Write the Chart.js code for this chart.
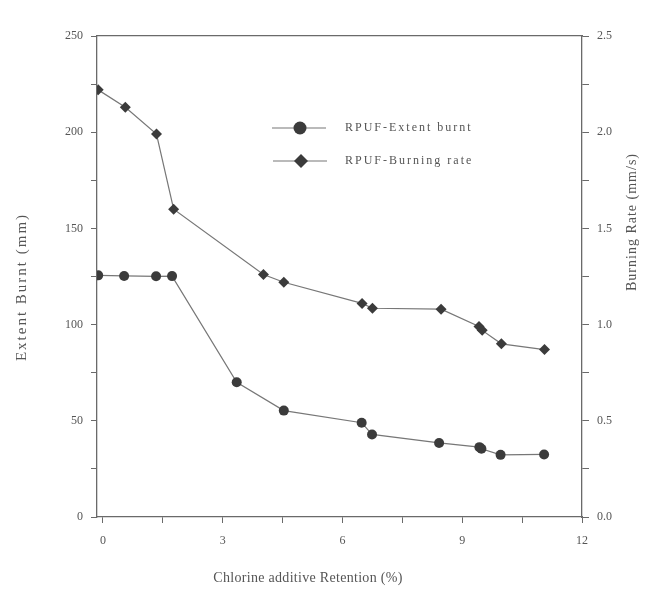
<!DOCTYPE html>
<html>
<head>
<meta charset="utf-8">
<title>Extent burnt and burning rate vs chlorine additive retention</title>
<script src="https://cdn.jsdelivr.net/npm/chart.js@4.4.1/dist/chart.umd.min.js"></script>
<style>
  html, body { margin: 0; padding: 0; background: #ffffff; }
  #wrap { width: 657px; height: 598px; }
</style>
</head>
<body>
<div id="wrap"><canvas id="chart" width="657" height="598"></canvas></div>
<script>
const retentionExtent = [-0.12, 0.53, 1.33, 1.73, 3.35, 4.53, 6.48, 6.74, 8.42, 9.43, 9.48, 9.96, 11.05];
const extentBurnt = [125.6, 125.3, 125.1, 125.2, 70.0, 55.3, 49.0, 42.9, 38.5, 36.3, 35.5, 32.3, 32.5];

const retentionRate = [-0.12, 0.56, 1.34, 1.77, 4.02, 4.53, 6.49, 6.75, 8.47, 9.42, 9.50, 9.98, 11.06];
const burningRate = [2.22, 2.13, 1.99, 1.60, 1.26, 1.22, 1.11, 1.085, 1.08, 0.99, 0.97, 0.90, 0.87];

const xTicks = [0, 1.5, 3, 4.5, 6, 7.5, 9, 10.5, 12];
const leftTicks = [0, 25, 50, 75, 100, 125, 150, 175, 200, 225, 250];
const rightTicks = [0, 0.25, 0.5, 0.75, 1, 1.25, 1.5, 1.75, 2, 2.25, 2.5];

const seriesNames = ['RPUF-Extent burnt', 'RPUF-Burning rate'];
const xTitle = 'Chlorine additive Retention (%)';
const leftTitle = 'Extent Burnt (mm)';
const rightTitle = 'Burning Rate (mm/s)';

const INK = '#555555';
const AXIS = '#6a6a6a';
const MARK = '#3b3b3b';
const SERIF = '"Liberation Serif", "DejaVu Serif", serif';

function toPoints(xs, ys) {
    return xs.map((x, i) => ({ x: x, y: ys[i] }));
}

function fixTicks(list) {
    return scale => { scale.ticks = list.map(v => ({ value: v })); };
}

function spaced(ctx, px) {
    if ('letterSpacing' in ctx) ctx.letterSpacing = px + 'px';
}

function rotatedText(ctx, text, x, y) {
    ctx.save();
    ctx.translate(x, y);
    ctx.rotate(-Math.PI / 2);
    ctx.fillText(text, 0, 0);
    ctx.restore();
}

// legend inside the plot + axis titles placed like the scan
const annotate = {
    id: 'annotate',
    afterDraw(chart) {
        const ctx = chart.ctx;
        ctx.save();

        // legend
        const rows = [
            { y: 128, x0: 272, x1: 326, mx: 300, style: 'circle', r: 6.5 },
            { y: 161, x0: 273, x1: 327, mx: 301, style: 'rectRot', r: 7 }
        ];
        rows.forEach((row, i) => {
            const ds = chart.data.datasets[i];
            ctx.strokeStyle = ds.borderColor;
            ctx.lineWidth = 1.2;
            ctx.beginPath();
            ctx.moveTo(row.x0, row.y);
            ctx.lineTo(row.x1, row.y);
            ctx.stroke();
            ctx.fillStyle = ds.pointBackgroundColor;
            ctx.beginPath();
            if (row.style === 'circle') {
                ctx.arc(row.mx, row.y, row.r, 0, Math.PI * 2);
            } else {
                ctx.moveTo(row.mx, row.y - row.r);
                ctx.lineTo(row.mx + row.r, row.y);
                ctx.lineTo(row.mx, row.y + row.r);
                ctx.lineTo(row.mx - row.r, row.y);
                ctx.closePath();
            }
            ctx.fill();
            ctx.fillStyle = INK;
            ctx.font = '12px ' + SERIF;
            ctx.textBaseline = 'middle';
            ctx.textAlign = 'left';
            spaced(ctx, 2);
            ctx.fillText(ds.label, 345, row.y);
        });

        ctx.fillStyle = INK;
        ctx.textAlign = 'center';
        ctx.textBaseline = 'middle';

        // x title
        ctx.font = '14px ' + SERIF;
        spaced(ctx, 0.3);
        ctx.fillText(xTitle, 308, 578);

        // y titles, both read bottom to top
        ctx.font = '15px ' + SERIF;
        spaced(ctx, 2);
        rotatedText(ctx, leftTitle, 22, 287);
        ctx.font = '14px ' + SERIF;
        spaced(ctx, 1);
        rotatedText(ctx, rightTitle, 632, 222);

        spaced(ctx, 0);
        ctx.restore();
    }
};

const tickFont = { family: SERIF, size: 12 };

new Chart(document.getElementById('chart'), {
    type: 'line',
    data: {
        datasets: [
            {
                label: seriesNames[0],
                data: toPoints(retentionExtent, extentBurnt),
                yAxisID: 'y',
                borderColor: '#777777',
                borderWidth: 1.2,
                pointStyle: 'circle',
                pointRadius: 5,
                pointBackgroundColor: MARK,
                pointBorderColor: MARK,
                pointBorderWidth: 0,
                tension: 0
            },
            {
                label: seriesNames[1],
                data: toPoints(retentionRate, burningRate),
                yAxisID: 'y1',
                borderColor: '#777777',
                borderWidth: 1.2,
                pointStyle: 'rectRot',
                pointRadius: 5.5,
                pointBackgroundColor: MARK,
                pointBorderColor: MARK,
                pointBorderWidth: 0,
                tension: 0
            }
        ]
    },
    options: {
        responsive: false,
        animation: false,
        events: [],
        layout: { padding: { left: 0, right: 0, top: 36, bottom: 0 } },
        plugins: {
            legend: { display: false },
            tooltip: { enabled: false }
        },
        scales: {
            x: {
                type: 'linear',
                position: 'bottom',
                min: -0.15,
                max: 12,
                afterBuildTicks: fixTicks(xTicks),
                afterFit: scale => { scale.height = 81; },
                grid: { drawOnChartArea: false, tickLength: 6, color: AXIS },
                border: { color: AXIS, width: 1.3 },
                ticks: {
                    autoSkip: false,
                    maxRotation: 0,
                    padding: 11,
                    color: INK,
                    font: tickFont,
                    callback: v => (v % 3 === 0 ? String(v) : '')
                }
            },
            xTop: {
                type: 'linear',
                position: 'top',
                min: -0.15,
                max: 12,
                afterFit: scale => { scale.height = 0; },
                grid: { display: false, drawTicks: false },
                border: { display: true, color: AXIS, width: 1.3 },
                ticks: { display: false }
            },
            y: {
                type: 'linear',
                position: 'left',
                min: 0,
                max: 250,
                afterBuildTicks: fixTicks(leftTicks),
                afterFit: scale => { scale.width = 97; },
                grid: { drawOnChartArea: false, tickLength: 6, color: AXIS },
                border: { color: AXIS, width: 1.3 },
                ticks: {
                    autoSkip: false,
                    padding: 8,
                    color: INK,
                    font: tickFont,
                    callback: v => (v % 50 === 0 ? String(v) : '')
                }
            },
            y1: {
                type: 'linear',
                position: 'right',
                min: 0,
                max: 2.5,
                afterBuildTicks: fixTicks(rightTicks),
                afterFit: scale => { scale.width = 75; },
                grid: { drawOnChartArea: false, tickLength: 7, color: AXIS },
                border: { color: AXIS, width: 1.3 },
                ticks: {
                    autoSkip: false,
                    padding: 8,
                    color: INK,
                    font: tickFont,
                    callback: v => (Math.round(v * 100) % 50 === 0 ? v.toFixed(1) : '')
                }
            }
        }
    },
    plugins: [annotate]
});
</script>
</body>
</html>
